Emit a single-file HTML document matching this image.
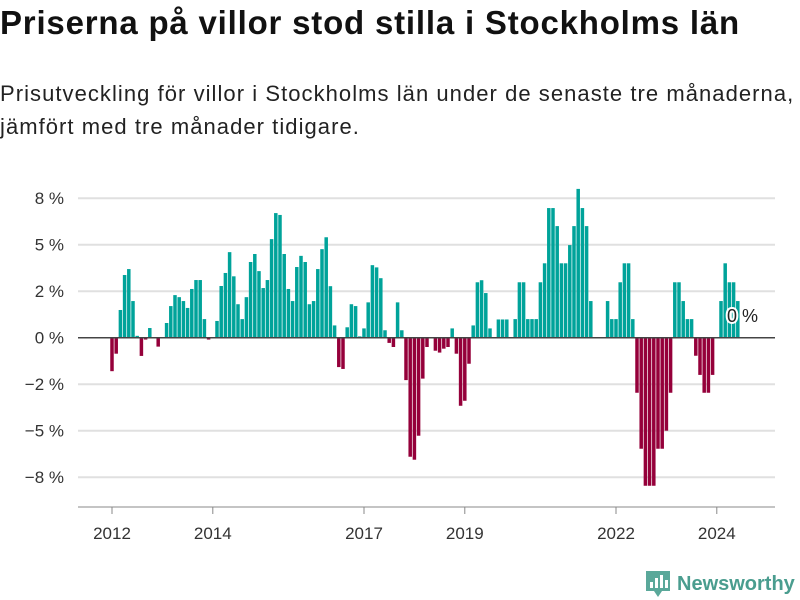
<!DOCTYPE html>
<html><head><meta charset="utf-8"><style>
body{margin:0;background:#fff;width:800px;height:600px;overflow:hidden;font-family:"Liberation Sans",sans-serif;}
#title{position:absolute;left:0;top:4px;font-size:33px;font-weight:bold;color:#111;letter-spacing:0.8px;white-space:nowrap}
#sub{position:absolute;left:0;top:77px;font-size:22px;line-height:33px;color:#222;width:800px;letter-spacing:1.05px;white-space:nowrap}
svg{position:absolute;left:0;top:0}
</style></head><body>
<div id="title">Priserna på villor stod stilla i Stockholms län</div>
<div id="sub">Prisutveckling för villor i Stockholms län under de senaste tre månaderna,<br>jämfört med tre månader tidigare.</div>
<svg id="chart" width="800" height="600"></svg>
<script>
const values = [-1.8,-0.86,1.49,3.37,3.69,1.97,0.1,-0.98,-0.1,0.52,0,-0.48,0,0.79,1.7,2.29,2.18,1.97,1.6,2.62,3.1,3.1,1.0,-0.1,
0,0.9,2.78,3.48,4.6,3.3,1.8,1.0,2.18,4.07,4.5,3.58,2.67,3.1,5.3,6.7,6.6,4.5,2.62,1.97,3.8,4.4,4.07,1.8,1.97,3.69,
4.76,5.4,2.77,0.66,-1.58,-1.68,0.56,1.8,1.7,0.07,0.5,1.9,3.9,3.78,3.2,0.4,-0.28,-0.5,1.9,0.4,-2.28,-6.4,-6.56,-5.27,-2.2,-0.5,0,-0.7,-0.8,-0.59,-0.5,0.5,-0.86,-3.66,-3.39,-1.4,0.66,2.98,3.09,2.4,0.5,0,0.98,0.98,0.98,
0,1.0,2.98,2.98,1.0,1.0,1.0,2.98,4.0,6.97,6.97,6.0,4.0,4.0,4.98,6.0,8.0,6.97,6.0,1.97,0,0,0,1.97,1.0,1.0,2.98,4.0,4.0,1.0,
-2.96,-5.97,-7.96,-7.96,-7.96,-5.97,-5.97,-5.0,-2.96,2.98,2.98,1.97,1.0,1.0,-0.97,-2.0,-2.96,-2.96,-2.0,0,1.97,4.0,2.98,2.98,1.97];
const yTicks = [7.5,5,2.5,0,-2.5,-5,-7.5];
const yTickLabels = ["8 %","5 %","2 %","0 %","−2 %","−5 %","−8 %"];
const xTickYears = [2012,2014,2017,2019,2022,2024];
const startYear = 2012;
const lastLabel = "0 %";

const NS="http://www.w3.org/2000/svg";
const svg=document.getElementById('chart');
function y(v){return 337.7 - v*18.6;}
function xm(m){return 112 + m*4.2;}
function xy(yr){return xm((yr-startYear)*12);}
function mk(t,a){const e=document.createElementNS(NS,t);for(const k in a)e.setAttribute(k,a[k]);svg.appendChild(e);return e;}
yTicks.forEach((t,i)=>{
  if(t!==0){const g=mk('line',{x1:78,x2:775,y1:y(t),y2:y(t),stroke:'#e0e0e0','stroke-width':2});
  
  }
  const l=mk('text',{x:64,y:y(t)+6,'text-anchor':'end','font-size':17,fill:'#333'});
  l.textContent=yTickLabels[i];
  
  
});
values.forEach((v,i)=>{
  if(v===0)return;
  const top=v>0?y(v):y(0), h=Math.abs(y(v)-y(0));
  const r=mk('rect',{x:xm(i)-1.75,y:top,width:3.5,height:h,fill:v>0?'#00a39a':'#95003a'});
  
  
});
const z=mk('line',{x1:78,x2:775,y1:y(0),y2:y(0),stroke:'#444','stroke-width':1.5});


const ax=mk('line',{x1:78,x2:775,y1:507,y2:507,stroke:'#888','stroke-width':1});


xTickYears.forEach(yr=>{
  const t=mk('line',{x1:xy(yr),x2:xy(yr),y1:507,y2:514,stroke:'#888','stroke-width':1});
  
  
  const l=mk('text',{x:xy(yr),y:539,'text-anchor':'middle','font-size':17,fill:'#333'});
  l.textContent=yr;
  
  
});
const ll=mk('text',{x:727,y:322,'font-size':18,fill:'#222',stroke:'#fff','stroke-width':4,'paint-order':'stroke'});
ll.textContent=lastLabel;


</script>
<svg width="800" height="600" style="pointer-events:none">
<path d="M646 571 h24 v20 h-8 l-4 6 l-4 -6 h-8 z" fill="#5aa89a"/>
<rect x="650" y="582" width="3" height="6" fill="#fff"/><rect x="655" y="578" width="3" height="10" fill="#fff"/><rect x="660" y="575" width="3" height="13" fill="#fff"/><rect x="665" y="580" width="3" height="8" fill="#fff"/>
<text x="677" y="590" font-size="20" font-weight="bold" fill="#4a9d8f" font-family="Liberation Sans, sans-serif">Newsworthy</text>
</svg>
</body></html>
